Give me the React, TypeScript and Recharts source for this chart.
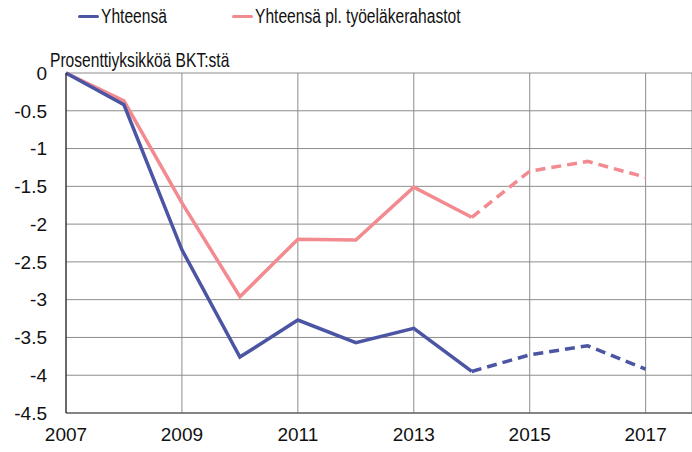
import React from "react";
import {
  LineChart,
  Line,
  XAxis,
  YAxis,
  CartesianGrid,
} from "recharts";

// ─── Data ────────────────────────────────────────────────────────────────────

const years = [2007, 2008, 2009, 2010, 2011, 2012, 2013, 2014, 2015, 2016, 2017];
const total = [0, -0.42, -2.34, -3.76, -3.27, -3.57, -3.38, -3.95, -3.73, -3.61, -3.92];
const exPensionFunds = [0, -0.37, -1.72, -2.96, -2.2, -2.21, -1.51, -1.91, -1.3, -1.17, -1.38];
// first year drawn dashed (forecast) – the solid part ends here too
const forecastFrom = 2014;

const xTicks = [2007, 2009, 2011, 2013, 2015, 2017];
const yTicks = [0, -0.5, -1, -1.5, -2, -2.5, -3, -3.5, -4, -4.5];

const seriesNames = ["Yhteensä", "Yhteensä pl. työeläkerahastot"];
const yTitle = "Prosenttiyksikköä  BKT:stä";

const BLUE = "#4b55a3";
const PINK = "#f28a8f";
const FONT = "'Liberation Sans', Arial, sans-serif";

// split each series into an actual (solid) and forecast (dashed) part
const chartData = years.map((year, i) => ({
  year,
  total: year <= forecastFrom ? total[i] : null,
  totalF: year >= forecastFrom ? total[i] : null,
  ex: year <= forecastFrom ? exPensionFunds[i] : null,
  exF: year >= forecastFrom ? exPensionFunds[i] : null,
}));

// ─── Legend ──────────────────────────────────────────────────────────────────

function TopLegend() {
  const items = [
    { name: seriesNames[0], color: BLUE, left: 78 },
    { name: seriesNames[1], color: PINK, left: 232 },
  ];
  return (
    <div style={{ position: "absolute", left: 0, top: 0, width: 692, height: 30, fontFamily: FONT }}>
      {items.map((it) => (
        <div
          key={it.name}
          style={{
            position: "absolute",
            left: it.left,
            top: 5,
            display: "flex",
            alignItems: "center",
            whiteSpace: "nowrap",
          }}
        >
          <span
            style={{
              display: "inline-block",
              width: 21,
              height: 3,
              background: it.color,
              borderRadius: 2,
              marginRight: 2,
            }}
          />
          <span
            style={{
              fontSize: 20,
              color: "#111",
              display: "inline-block",
              transform: "scaleX(0.78)",
              transformOrigin: "left center",
            }}
          >
            {it.name}
          </span>
        </div>
      ))}
    </div>
  );
}

function AxisTitle(props: any) {
  const vb = props.viewBox || { x: 0, y: 73 };
  return (
    <text
      x={vb.x + 50}
      y={vb.y - 6}
      fontSize={20}
      fill="#111"
      fontFamily={FONT}
      transform={`translate(${(vb.x + 50) * 0.22}, 0) scale(0.78, 1)`}
    >
      {yTitle}
    </text>
  );
}

// ─── Chart ───────────────────────────────────────────────────────────────────

export default function App() {
  return (
    <div style={{ position: "absolute", left: 0, top: 0, width: 692, height: 452, background: "#fff" }}>
      <LineChart
        width={692}
        height={452}
        data={chartData}
        margin={{ top: 73, right: 0, bottom: 0, left: 0 }}
      >
        <CartesianGrid stroke="#8c8c8c" strokeWidth={1} />
        <XAxis
          dataKey="year"
          type="number"
          domain={[2007, 2017.8]}
          ticks={xTicks}
          allowDataOverflow
          height={39}
          tickLine={false}
          tickMargin={9}
          stroke="#444"
          tick={{ fontSize: 19, fill: "#111", fontFamily: FONT }}
        />
        <YAxis
          type="number"
          domain={[-4.5, 0]}
          ticks={yTicks}
          width={66}
          tickLine={false}
          tickMargin={13}
          stroke="#111"
          tick={{ fontSize: 19, fill: "#111", fontFamily: FONT }}
          label={{ content: <AxisTitle /> }}
        />
        <Line dataKey="ex" stroke={PINK} strokeWidth={3.5} dot={false} isAnimationActive={false} />
        <Line
          dataKey="exF"
          stroke={PINK}
          strokeWidth={3.5}
          strokeDasharray="10 6"
          dot={false}
          isAnimationActive={false}
        />
        <Line dataKey="total" stroke={BLUE} strokeWidth={3.5} dot={false} isAnimationActive={false} />
        <Line
          dataKey="totalF"
          stroke={BLUE}
          strokeWidth={3.5}
          strokeDasharray="10 6"
          dot={false}
          isAnimationActive={false}
        />
      </LineChart>
      <TopLegend />
    </div>
  );
}
